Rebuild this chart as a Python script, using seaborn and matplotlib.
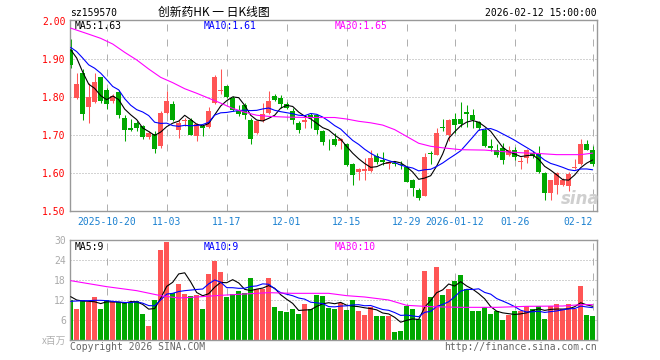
import numpy as np
import pandas as pd
import seaborn as sns
import matplotlib
matplotlib.use("Agg")
import matplotlib.pyplot as plt

sns.set_style("white")
plt.rcParams["font.family"] = ["DejaVu Sans Mono", "Noto Sans CJK SC"]

# daily K-line, 2025-10-10 .. 2026-02-12 (88 trading days)
open_ = [1.925, 1.797, 1.863, 1.775, 1.787, 1.852, 1.819, 1.790, 1.813, 1.746,
         1.718, 1.732, 1.723, 1.694, 1.703, 1.670, 1.758, 1.782, 1.714, 1.736,
         1.740, 1.696, 1.723, 1.720, 1.784, 1.815, 1.828, 1.797, 1.762, 1.778,
         1.740, 1.705, 1.736, 1.758, 1.802, 1.797, 1.782, 1.762, 1.731, 1.734,
         1.752, 1.752, 1.710, 1.685, 1.690, 1.683, 1.676, 1.624, 1.602, 1.606,
         1.604, 1.644, 1.635, 1.624, 1.627, 1.624, 1.615, 1.580, 1.554, 1.540,
         1.652, 1.648, 1.721, 1.699, 1.743, 1.743, 1.761, 1.752, 1.734, 1.714,
         1.672, 1.659, 1.666, 1.647, 1.661, 1.629, 1.639, 1.653, 1.650, 1.600,
         1.547, 1.569, 1.569, 1.565, 1.614, 1.622, 1.676, 1.659]
high = [1.953, 1.863, 1.875, 1.837, 1.863, 1.854, 1.825, 1.808, 1.819, 1.752,
        1.742, 1.736, 1.727, 1.710, 1.710, 1.762, 1.815, 1.789, 1.740, 1.745,
        1.745, 1.732, 1.727, 1.775, 1.857, 1.874, 1.832, 1.802, 1.780, 1.784,
        1.745, 1.740, 1.784, 1.817, 1.808, 1.806, 1.786, 1.771, 1.736, 1.749,
        1.758, 1.754, 1.714, 1.688, 1.705, 1.693, 1.679, 1.626, 1.613, 1.640,
        1.659, 1.653, 1.655, 1.632, 1.631, 1.631, 1.617, 1.584, 1.560, 1.653,
        1.657, 1.718, 1.743, 1.743, 1.758, 1.787, 1.778, 1.769, 1.738, 1.718,
        1.688, 1.675, 1.679, 1.670, 1.667, 1.641, 1.662, 1.657, 1.670, 1.603,
        1.582, 1.603, 1.585, 1.603, 1.637, 1.688, 1.686, 1.670]
low = [1.878, 1.795, 1.740, 1.732, 1.784, 1.784, 1.769, 1.784, 1.746, 1.685,
       1.710, 1.710, 1.690, 1.688, 1.653, 1.666, 1.754, 1.736, 1.692, 1.723,
       1.699, 1.685, 1.696, 1.718, 1.782, 1.808, 1.797, 1.762, 1.749, 1.742,
       1.675, 1.703, 1.734, 1.754, 1.789, 1.771, 1.768, 1.729, 1.705, 1.718,
       1.718, 1.703, 1.673, 1.661, 1.670, 1.664, 1.618, 1.567, 1.582, 1.582,
       1.603, 1.622, 1.620, 1.609, 1.617, 1.611, 1.575, 1.539, 1.529, 1.538,
       1.624, 1.646, 1.710, 1.683, 1.705, 1.720, 1.720, 1.718, 1.714, 1.668,
       1.657, 1.643, 1.624, 1.644, 1.635, 1.609, 1.625, 1.640, 1.600, 1.527,
       1.527, 1.544, 1.565, 1.551, 1.610, 1.620, 1.659, 1.617]
close = [1.885, 1.835, 1.755, 1.800, 1.839, 1.789, 1.782, 1.804, 1.752, 1.714,
         1.714, 1.718, 1.694, 1.705, 1.663, 1.758, 1.789, 1.740, 1.732, 1.740,
         1.701, 1.729, 1.717, 1.764, 1.854, 1.818, 1.799, 1.767, 1.754, 1.752,
         1.688, 1.736, 1.754, 1.789, 1.793, 1.782, 1.772, 1.740, 1.714, 1.740,
         1.746, 1.714, 1.682, 1.683, 1.673, 1.690, 1.620, 1.593, 1.609, 1.611,
         1.639, 1.629, 1.629, 1.629, 1.624, 1.620, 1.577, 1.560, 1.533, 1.641,
         1.651, 1.705, 1.719, 1.740, 1.727, 1.729, 1.754, 1.740, 1.718, 1.670,
         1.666, 1.648, 1.635, 1.659, 1.641, 1.631, 1.660, 1.644, 1.603, 1.547,
         1.580, 1.600, 1.580, 1.596, 1.616, 1.675, 1.661, 1.622]
# volume, million shares
volume = [11.9, 9.2, 11.9, 11.5, 12.8, 9.2, 11.9, 11.7, 11.3, 11.2,
          11.5, 11.6, 7.8, 4.2, 12.1, 26.9, 29.4, 14.0, 16.7, 13.8,
          13.2, 13.5, 9.2, 19.7, 23.6, 20.4, 13.0, 13.8, 14.8, 14.0,
          18.5, 15.2, 15.4, 18.5, 10.0, 8.8, 8.4, 9.2, 7.9, 10.7,
          9.2, 13.4, 13.1, 9.5, 9.2, 11.2, 9.1, 11.9, 8.6, 7.5,
          10.0, 7.2, 7.2, 7.2, 2.4, 2.7, 10.1, 9.2, 6.4, 20.7,
          12.8, 21.9, 13.4, 15.2, 17.6, 19.4, 15.4, 8.6, 8.6, 9.8,
          7.7, 8.6, 6.0, 7.4, 8.6, 8.6, 10.2, 9.2, 10.2, 6.2,
          10.1, 10.7, 9.2, 10.7, 9.2, 16.1, 7.5, 7.1]

# moving-average values before enough visible days exist
ma5_head = [1.925, 1.903, 1.866, 1.834]
ma10_head = [1.931, 1.920, 1.903, 1.885, 1.876, 1.863, 1.846, 1.828, 1.819]
ma30_idx = [0, 3, 5, 7, 9, 11, 13, 15, 17, 19, 21, 23, 25, 27, 29, 31, 33, 36, 40,
            44, 46, 48, 50, 52, 54, 56, 58, 60, 62, 65, 69, 72, 75, 78, 81, 85, 87]
ma30_val = [1.982, 1.966, 1.955, 1.940, 1.918, 1.898, 1.874, 1.852, 1.838, 1.822,
            1.810, 1.797, 1.784, 1.770, 1.760, 1.752, 1.749, 1.747, 1.746, 1.746,
            1.742, 1.736, 1.732, 1.726, 1.714, 1.696, 1.678, 1.670, 1.666, 1.661,
            1.660, 1.656, 1.653, 1.651, 1.648, 1.648, 1.652]
vma5_head = [13.0, 12.0, 11.7, 11.6]
vma10_head = [11.6, 11.7, 11.8, 11.8, 11.9, 11.9, 11.8, 11.6, 11.4]
vma30_idx = [0, 6, 11, 15, 18, 21, 25, 30, 33, 37, 43, 46, 49, 53, 56, 60, 65, 71, 76, 82, 85, 87]
vma30_val = [17.8, 16.0, 14.8, 13.3, 12.6, 12.9, 13.4, 13.9, 14.2, 14.0, 14.0,
             13.3, 12.9, 12.0, 10.4, 10.0, 9.8, 9.8, 10.1, 10.2, 10.6, 10.6]

date_pos = [6, 16, 26, 36, 46, 56, 64, 74, 87]
date_labels = ["2025-10-20", "11-03", "11-17", "12-01", "12-15", "12-29",
               "2026-01-12", "01-26", "02-12"]
price_ticks = [1.50, 1.60, 1.70, 1.80, 1.90, 2.00]
vol_ticks = [6, 12, 18, 24, 30]

RED = "#ff5555"
GREEN = "#00a800"
GRID = "#b0b0b0"
W, H = 660, 360

df = pd.DataFrame({"open": open_, "high": high, "low": low, "close": close, "vol": volume})
df["i"] = np.arange(len(df))
df["dir"] = np.where(df["close"] >= df["open"], "up", "down")
colors = np.where(df["dir"] == "up", RED, GREEN)

ma5 = df["close"].rolling(5).mean().to_numpy()
ma5[:4] = ma5_head
ma10 = df["close"].rolling(10).mean().to_numpy()
ma10[:9] = ma10_head
vma5 = df["vol"].rolling(5).mean().to_numpy()
vma5[:4] = vma5_head
vma10 = df["vol"].rolling(10).mean().to_numpy()
vma10[:9] = vma10_head

fig = plt.figure(figsize=(W / 100, H / 100), dpi=100)
fig.patch.set_facecolor("white")


def px_axes(left, top, right, bottom):
    return fig.add_axes([left / W, 1 - bottom / H, (right - left) / W, (bottom - top) / H])


axp = px_axes(70, 20, 597, 211)
axv = px_axes(70, 240, 597, 340)

xlim = (-0.117, 87.72)

# grid
for ax in (axp, axv):
    for t in date_pos:
        ax.axvline(t, color=GRID, lw=0.72, ls=(0, (7, 8)), zorder=0)
for y in price_ticks[1:-1]:
    axp.axhline(y, color="#a8a8a8", lw=0.72, ls=(0, (1, 2)), zorder=0)
for y in vol_ticks[:-1]:
    axv.axhline(y, color="#a8a8a8", lw=0.72, ls=(0, (1, 2)), zorder=0)

# candles
x = df["i"].to_numpy()
axp.vlines(x, df["low"], df["high"], colors=colors, lw=0.75, zorder=2)
body = (df["close"] - df["open"]).abs().to_numpy()
body_h = np.maximum(body, 0.0026)
body_lo = np.minimum(df["open"], df["close"]).to_numpy() - (body_h - body) / 2
axp.bar(x, body_h, bottom=body_lo, width=0.78, color=colors, linewidth=0, zorder=3)

sns.lineplot(x=x, y=ma5, color="black", lw=0.8, ax=axp, zorder=4)
sns.lineplot(x=x, y=ma10, color="#0000ff", lw=0.8, ax=axp, zorder=4)
sns.lineplot(x=ma30_idx, y=ma30_val, color="#ff00ff", lw=0.8, ax=axp, zorder=4)

# volume
sns.barplot(data=df, x="i", y="vol", hue="dir", palette={"up": RED, "down": GREEN},
            native_scale=True, width=0.84, dodge=False, saturation=1, errorbar=None,
            legend=False, linewidth=0, ax=axv, zorder=2)
sns.lineplot(x=x, y=vma5, color="black", lw=0.8, ax=axv, zorder=4)
sns.lineplot(x=x, y=vma10, color="#0000ff", lw=0.8, ax=axv, zorder=4)
sns.lineplot(x=vma30_idx, y=vma30_val, color="#ff00ff", lw=0.8, ax=axv, zorder=4)

# axes cosmetics
axp.set_xlim(*xlim)
axp.set_ylim(1.4992, 2.0034)
axv.set_xlim(*xlim)
axv.set_ylim(0, 30)
for ax in (axp, axv):
    ax.set_xlabel("")
    ax.set_ylabel("")
    for s in ax.spines.values():
        s.set_color("#999999")
        s.set_linewidth(1.0)
        s.set_visible(True)

axp.set_yticks(price_ticks)
axp.set_yticklabels([f"{v:.2f}" for v in price_ticks])
axp.tick_params(axis="y", length=0, pad=3, labelsize=7, labelcolor="#ff0000")
axp.set_xticks(date_pos)
axp.set_xticklabels(date_labels)
axp.tick_params(axis="x", length=0, pad=4.5, labelsize=7, labelcolor="#1a80d0")
axp.get_xticklabels()[-1].set_horizontalalignment("right")

axv.set_yticks(vol_ticks)
axv.set_yticklabels([str(v) for v in vol_ticks])
axv.tick_params(axis="y", length=0, pad=3, labelsize=7, labelcolor="#aaaaaa")
axv.set_xticks([])

# texts
def ftext(xp, yp, s, **kw):
    fig.text(xp / W, 1 - yp / H, s, va="center", **kw)

ftext(70, 13.5, "sz159570", ha="left", fontsize=7, color="black")
ftext(214, 12.5, "创新药HK 一 日K线图", ha="center", fontsize=8.5, color="black",
      family=["Noto Sans CJK SC", "DejaVu Sans"])
ftext(597, 13.5, "2026-02-12 15:00:00", ha="right", fontsize=7, color="black")

ftext(75, 26, "MA5:1.63", ha="left", fontsize=7, color="black")
ftext(204, 26, "MA10:1.61", ha="left", fontsize=7, color="#0000ff")
ftext(335, 26, "MA30:1.65", ha="left", fontsize=7, color="#ff00ff")

ftext(75, 246.5, "MA5:9", ha="left", fontsize=7, color="black")
ftext(204, 246.5, "MA10:9", ha="left", fontsize=7, color="#0000ff")
ftext(335, 246.5, "MA30:10", ha="left", fontsize=7, color="#ff00ff")

ftext(66, 340.5, "x百万", ha="right", fontsize=7, color="#b0b0b0",
      family=["Noto Sans CJK SC", "DejaVu Sans"])
ftext(70, 346.5, "Copyright 2026 SINA.COM", ha="left", fontsize=7, color="#666666")
ftext(597, 346.5, "http://finance.sina.com.cn", ha="right", fontsize=7, color="#666666")

ftext(580, 199, "sina", ha="center", fontsize=12, color="#cfcfcf",
      family=["DejaVu Sans"], style="italic", weight="bold")

fig.savefig("out.png", dpi=100, facecolor="white")
